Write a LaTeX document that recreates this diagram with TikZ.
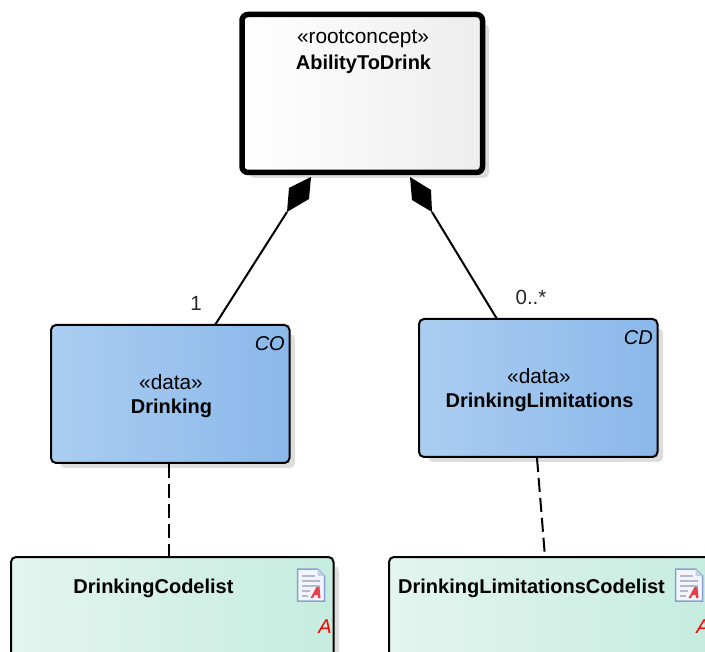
\documentclass[tikz,border=0pt]{standalone}
\usepackage{fontspec}
\setmainfont{Liberation Sans}
\definecolor{shadowgrey}{HTML}{DDDDDD}
\tikzset{
  basebox/.style={draw=black,line width=2pt,rounded corners=5pt,inner sep=0pt,outer sep=0pt,anchor=north west,
    minimum width=#1,shading angle=0},
  rootbox/.style={basebox=240.5pt,minimum height=158pt,line width=5.5pt,rounded corners=6pt,left color=white,right color=black!7},
  databox/.style={basebox=238.5pt,minimum height=138pt,left color=blueL,right color=blueR},
  codebox/.style={basebox=322.5pt,minimum height=170pt,left color=greenL,right color=greenR},
  shadowbox/.style={fill=shadowgrey,rounded corners=5pt},
  label/.style={font=\fontsize{20.8}{24}\selectfont,inner sep=0pt,text=black},
  stereo/.style={label},
  title/.style={label,font=\fontsize{20}{24}\selectfont\bfseries},
  tag/.style={label,font=\fontsize{20}{24}\selectfont\itshape},
  mult/.style={font=\fontsize{20.5}{24}\selectfont,inner sep=0pt,text=black!85},
  assoc/.style={draw=black,line width=2pt},
  dep/.style={draw=black,line width=2pt,dash pattern=on 14pt off 6pt},
  pagefill/.style={draw=iconblue,line width=1.5pt,fill=iconpage},
  iconline/.style={draw=iconlines,line width=1.2pt},
}
\definecolor{blueL}{HTML}{ABCDF1}
\definecolor{blueR}{HTML}{8AB8EA}
\definecolor{greenL}{HTML}{E3F5EF}
\definecolor{greenR}{HTML}{C6ECDF}
\definecolor{iconblue}{HTML}{8AA0D2}
\definecolor{iconpage}{HTML}{F2F5FB}
\definecolor{iconlines}{HTML}{B3B8CE}
\definecolor{iconred}{HTML}{E8404A}
\newcommand{\codeicon}[2]{%
  \begin{scope}[shift={(#1,#2)}]
    \fill[pagefill] (0,0) -- (20,0) -- (27,7) -- (27,32) -- (0,32) -- cycle;
    \fill[iconblue!50] (20,0) -- (20,7) -- (27,7) -- cycle;
    \draw[iconline] (4,7) -- (17,7) (4,12) -- (22,12) (4,17) -- (22,17) (4,22) -- (12,22) (4,27) -- (10,27);
    \fill[iconred] (13,29) -- (19,18) -- (22,18) -- (23,29) -- (20.5,29) -- (20.2,26) -- (17,26) -- (15.6,29) -- cycle;
  \end{scope}}
\begin{document}
\begin{tikzpicture}[x=1pt,y=-1pt]
\useasboundingbox (0,0) rectangle (705,652);
\clip (0,0) rectangle (705,652);
% shadows
\fill[shadowbox] (249,24) rectangle (489,178);
\fill[shadowbox] (60,334) rectangle (295,468);
\fill[shadowbox] (428,328) rectangle (663,462);
\fill[shadowbox] (20,566) rectangle (339,730);
\fill[shadowbox] (398,566) rectangle (717,730);
% boxes
\node[rootbox] (root) at (242,14.5) {};
\node[databox] (drinking) at (51,325) {};
\node[databox] (limits) at (419,319) {};
\node[codebox] (codeA) at (11,557) {};
\node[codebox] (codeB) at (389,557) {};
% texts
\node[stereo] (rootS) at (363,38.5) {«rootconcept»};
\node[title] (rootT) at (363.5,64) {AbilityToDrink};
\node[stereo] (drS) at (171,382) {«data»};
\node[title] (drT) at (171.5,408) {Drinking};
\node[tag,anchor=east] (drTag) at (285,344) {CO};
\node[stereo] (liS) at (539,376) {«data»};
\node[title] (liT) at (539.5,402) {DrinkingLimitations};
\node[tag,anchor=east] (liTag) at (653,338) {CD};
\node[title] (aT) at (153.5,588) {DrinkingCodelist};
\node[title] (bT) at (531.5,588) {DrinkingLimitationsCodelist};
\node[tag,text=red,anchor=east] (aTag) at (332,627) {A};
\node[tag,text=red,anchor=east] (bTag) at (710,627) {A};
\codeicon{297.5}{569}
\codeicon{675.5}{569}
% composition connectors
\coordinate (lTip) at (311,177);
\coordinate (lEnd) at (287,212);
\coordinate (rTip) at (410,177);
\coordinate (rEnd) at (432,212);
\coordinate (drTop) at (215,325);
\coordinate (liTop) at (497,319);
\fill (lTip) -- (289,188) -- (lEnd) -- (309,199) -- cycle;
\fill (rTip) -- (431,190) -- (rEnd) -- (412,200) -- cycle;
\draw[assoc] (lEnd) -- (drTop);
\draw[assoc] (rEnd) -- (liTop);
\node[mult] (m1) at (196,303) {1};
\node[mult] (m2) at (531,297) {0..*};
% dependencies
\coordinate (drBot) at (169,464);
\coordinate (aTop) at (169,557);
\coordinate (liBot) at (537,458);
\coordinate (bTop) at (545,557);
\draw[dep] (drBot) -- (aTop);
\draw[dep] (liBot) -- (bTop);
\end{tikzpicture}
\end{document}
